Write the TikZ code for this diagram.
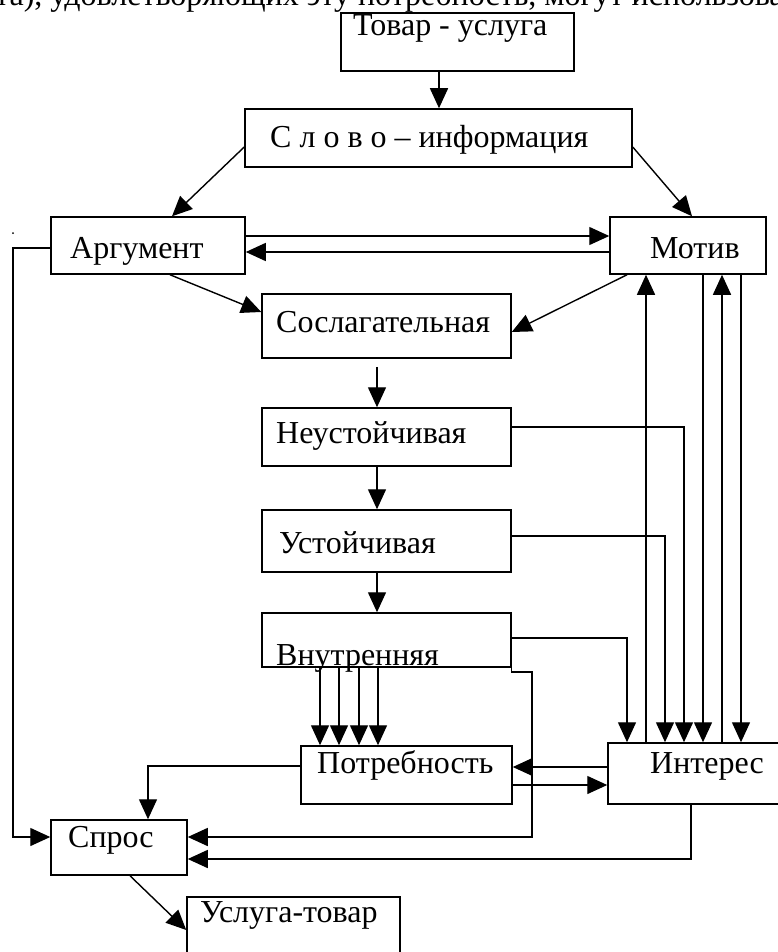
\documentclass[tikz,border=0pt]{standalone}
\usepackage{fontspec}
\setmainfont{Liberation Serif}
\usetikzlibrary{arrows.meta}
\begin{document}
\begin{tikzpicture}[x=1pt,y=-1pt,
  box/.style={draw, line width=1.5pt, inner sep=0pt},
  lbl/.style={anchor=base west, inner sep=0pt, font=\fontsize{32}{38}\selectfont},
  conn/.style={line width=1.4pt},
  arr/.style={line width=1.4pt, -{Triangle[length=20pt,width=18pt]}}]
\useasboundingbox (0,0) rectangle (778,952);
\clip (0,0) rectangle (778,952);
% top text line (cut off)
\node[lbl] (toptext) at (-5,6) {та), удовлетворяющих эту потребность, могут использоваться};
\fill (13,233) circle (1pt);
% boxes
\node[box, minimum width=233pt, minimum height=58pt] (tovar) at (457.5,42) {};
\node[box, minimum width=387pt, minimum height=58pt] (slovo) at (438.5,138) {};
\node[box, minimum width=194pt, minimum height=57pt] (arg) at (148,245.5) {};
\node[box, minimum width=156pt, minimum height=57pt] (motiv) at (688,245.5) {};
\node[box, minimum width=249pt, minimum height=64pt] (sosl) at (386.5,326) {};
\node[box, minimum width=249pt, minimum height=58pt] (neust) at (386.5,437) {};
\node[box, minimum width=249pt, minimum height=62pt] (ust) at (386.5,541) {};
\node[box, minimum width=249pt, minimum height=54pt] (vnutr) at (386.5,640) {};
\node[box, minimum width=211pt, minimum height=58pt] (potr) at (406.5,775) {};
\node[box, minimum width=182pt, minimum height=61pt] (inter) at (699,773.5) {};
\node[box, minimum width=136pt, minimum height=55pt] (spros) at (119,847.5) {};
\node[box, minimum width=213pt, minimum height=78pt] (usluga) at (293.5,936) {};
% labels
\node[lbl] (tovarT) at (353,36) {Товар - услуга};
\node[lbl] (slovoT) at (270,148) {С л о в о – информация};
\node[lbl] (argT) at (70,258) {Аргумент};
\node[lbl] (motivT) at (650,258) {Мотив};
\node[lbl] (soslT) at (276,332) {Сослагательная};
\node[lbl] (neustT) at (276,443) {Неустойчивая};
\node[lbl] (ustT) at (279,553) {Устойчивая};
\node[lbl] (vnutrT) at (276,665) {Внутренняя};
\node[lbl] (potrT) at (317,773) {Потребность};
\node[lbl] (interT) at (650,773) {Интерес};
\node[lbl] (sprosT) at (68,847) {Спрос};
\node[lbl] (uslugaT) at (200,922) {Услуга-товар};
% helper coordinates
\coordinate (vs) at (532,672);
\coordinate (al) at (13,248);
% connectors
\draw[arr] (tovar.south -| 439,0) -- (slovo.north -| 439,0);
\draw[arr] (slovo.west |- 0,147) -- (arg.north -| 172,0);
\draw[arr] (slovo.east |- 0,147) -- (motiv.north -| 692,0);
\draw[arr] (arg.east |- 0,236) -- (motiv.west |- 0,236);
\draw[arr] (motiv.west |- 0,252) -- (arg.east |- 0,252);
\draw[arr] (arg.south -| 170,0) -- (sosl.west |- 0,312);
\draw[arr] (motiv.south -| 627,0) -- (sosl.east |- 0,332);
\draw[arr, shorten <=8pt] (sosl.south -| 377,0) -- (neust.north -| 377,0);
\draw[arr] (neust.south -| 377,0) -- (ust.north -| 377,0);
\draw[arr] (ust.south -| 377,0) -- (vnutr.north -| 377,0);
\foreach \xx in {320,339,359,378}
  \draw[arr] (vnutr.south -| \xx,0) -- (potr.north -| \xx,0);
\draw[arr] (neust.east |- 0,427) -| (inter.north -| 684,0);
\draw[arr] (ust.east |- 0,536) -| (inter.north -| 665,0);
\draw[arr] (vnutr.east |- 0,638) -| (inter.north -| 627,0);
\draw[arr] (inter.north -| 646,0) -- (motiv.south -| 646,0);
\draw[arr] (motiv.south -| 703,0) -- (inter.north -| 703,0);
\draw[arr] (inter.north -| 722,0) -- (motiv.south -| 722,0);
\draw[arr] (motiv.south -| 741,0) -- (inter.north -| 741,0);
\draw[arr] (vnutr.south east) |- (vs) |- (spros.east |- 0,837);
\draw[arr] (potr.east |- 0,785) -- (inter.west |- 0,785);
\draw[arr] (inter.west |- 0,767) -- (potr.east |- 0,767);
\draw[arr] (inter.south -| 691,0) |- (spros.east |- 0,859);
\draw[arr] (potr.west |- 0,766) -| (spros.north -| 148,0);
\draw[arr] (arg.west |- 0,248) -- (al) |- (spros.west |- 0,837);
\draw[arr] (spros.south -| 130,0) -- (usluga.west |- 0,930);
\end{tikzpicture}
\end{document}
